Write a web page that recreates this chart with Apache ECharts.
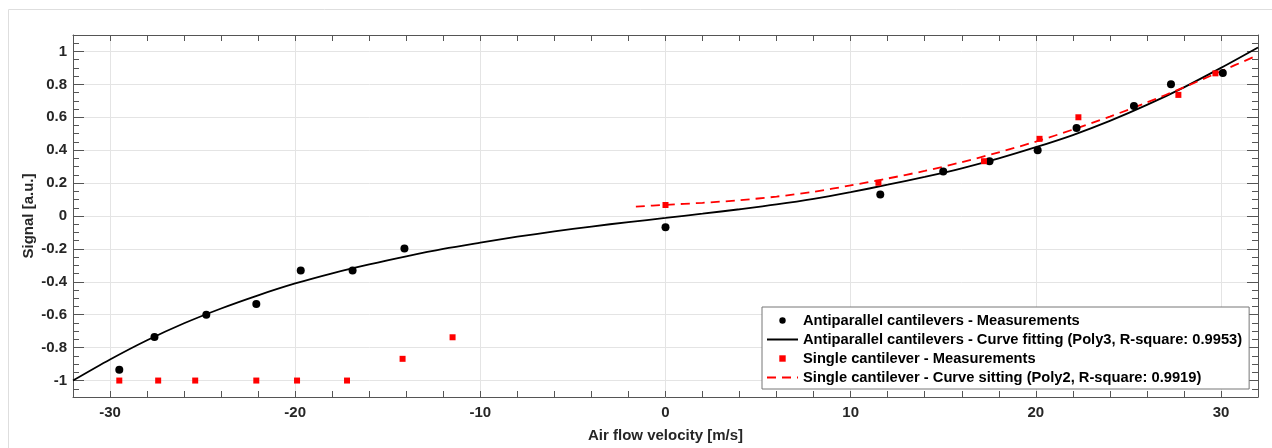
<!DOCTYPE html>
<html>
<head>
<meta charset="utf-8">
<script src="https://cdn.jsdelivr.net/npm/echarts@6/dist/echarts.min.js"></script>
<style>
html,body{margin:0;padding:0;background:#fff;}
#chart{width:1272px;height:448px;}
</style>
</head>
<body>
<div id="chart"></div>
<script>
// ---- data ----
const antiX = [-29.5, -27.6, -24.8, -22.1, -19.7, -16.9, -14.1, 0.0, 11.6, 15.0, 17.5, 20.1, 22.2, 25.3, 27.3, 30.1];
const antiY = [-0.935, -0.735, -0.60, -0.535, -0.331, -0.331, -0.198, -0.068, 0.13, 0.27, 0.333, 0.40, 0.535, 0.669, 0.80, 0.869];

const singleX = [-29.5, -27.4, -25.4, -22.1, -19.9, -17.2, -14.2, -11.5, 0.0, 11.5, 17.2, 20.2, 22.3, 27.7, 29.7];
const singleY = [-1, -1, -1, -1, -1, -1, -0.868, -0.737, 0.067, 0.202, 0.333, 0.469, 0.6, 0.736, 0.867];

// fitted curves
const antiFitX = [-32, -30, -28, -26, -24, -22, -20, -18, -16, -14, -12, -10, -8, -6, -4, -2, 0, 2, 4, 6, 8, 10, 12, 14, 16, 18, 20, 22, 24, 26, 28, 30, 32];
const antiFitY = [-1.0, -0.872, -0.755, -0.652, -0.562, -0.482, -0.41, -0.348, -0.294, -0.245, -0.2, -0.162, -0.126, -0.094, -0.064, -0.037, -0.012, 0.014, 0.041, 0.07, 0.104, 0.145, 0.19, 0.238, 0.29, 0.35, 0.418, 0.492, 0.578, 0.675, 0.782, 0.9, 1.024];

const singleFitX = [-1.6, 0, 2, 4, 6, 8, 10, 12, 14, 16, 18, 20, 22, 24, 26, 28, 30, 31.8];
const singleFitY = [0.057, 0.068, 0.08, 0.096, 0.118, 0.147, 0.186, 0.228, 0.274, 0.327, 0.387, 0.452, 0.525, 0.604, 0.69, 0.782, 0.88, 0.968];

const xTickLabels = [-30, -20, -10, 0, 10, 20, 30];
const yTickLabels = [-1, -0.8, -0.6, -0.4, -0.2, 0, 0.2, 0.4, 0.6, 0.8, 1];

const names = [
  'Antiparallel cantilevers - Measurements',
  'Antiparallel cantilevers - Curve fitting (Poly3, R-square: 0.9953)',
  'Single cantilever - Measurements',
  'Single cantilever - Curve sitting (Poly2, R-square: 0.9919)'
];
const xLabel = 'Air flow velocity [m/s]';
const yLabel = 'Signal [a.u.]';

// ---- chart ----
const FONT = 'Liberation Sans, Arial, Helvetica, sans-serif';
const TXT = '#262626';
const AXC = '#555555';
const zip = (a, b) => a.map((v, i) => [v, b[i]]);

function isMultiple(v, step) {
  const r = v / step;
  return Math.abs(r - Math.round(r)) < 1e-6;
}

function xAxisDef(pos, labels) {
  return {
    type: 'value', position: pos, min: -32, max: 32, interval: 2, z: 3,
    axisLine: { show: true, onZero: false, lineStyle: { color: AXC, width: 1 } },
    axisTick: { show: true, inside: true, length: 6, lineStyle: { color: AXC, width: 1 } },
    axisLabel: labels ? {
      show: true, margin: 8, color: TXT, fontFamily: FONT, fontWeight: 'bold', fontSize: 15,
      formatter: v => isMultiple(v, 10) && xTickLabels.indexOf(Math.round(v)) >= 0 ? String(Math.round(v)) : ''
    } : { show: false },
    splitLine: { show: false },
    name: labels ? xLabel : '',
    nameLocation: 'middle', nameGap: 31, nameMoveOverlap: false,
    nameTextStyle: { color: TXT, fontFamily: FONT, fontWeight: 'bold', fontSize: 15 }
  };
}
function yMinorDef(pos, labels) {
  return {
    type: 'value', position: pos, min: -1.1, max: 1.1, interval: 0.05, z: 3,
    axisLine: { show: true, onZero: false, lineStyle: { color: AXC, width: 1 } },
    axisTick: { show: true, inside: true, length: 6, lineStyle: { color: AXC, width: 1 } },
    axisLabel: labels ? {
      show: true, margin: 6, color: TXT, fontFamily: FONT, fontWeight: 'bold', fontSize: 15,
      formatter: v => {
        if (!isMultiple(v, 0.2) && !isMultiple(v, 1)) return '';
        const r = Math.round(v * 10) / 10;
        if (yTickLabels.indexOf(r) < 0 && r !== 0) return '';
        return String(r === 0 ? 0 : r);
      }
    } : { show: false },
    splitLine: { show: false },
    name: labels ? yLabel : '',
    nameLocation: 'middle', nameGap: 37, nameRotate: 90, nameMoveOverlap: false,
    nameTextStyle: { color: TXT, fontFamily: FONT, fontWeight: 'bold', fontSize: 15 }
  };
}
function yMajorDef(pos) {
  return {
    type: 'value', position: pos, min: -1.1, max: 1.1, offset: 0, z: 3,
    axisLine: { show: false, onZero: false },
    axisTick: { show: true, inside: true, length: 11, customValues: yTickLabels, lineStyle: { color: AXC, width: 1 } },
    axisLabel: { show: false },
    splitLine: { show: false }
  };
}

const chart = echarts.init(document.getElementById('chart'), null, { renderer: 'canvas' });
chart.setOption({
  animation: false,
  backgroundColor: '#ffffff',
  graphic: [{
    type: 'rect', left: 6, top: 7, silent: true, z: -10,
    shape: { x: 0.5, y: 0.5, width: 1290, height: 480 },
    style: { fill: 'none', stroke: '#dedede', lineWidth: 1 }
  }],
  grid: { left: 73, right: 14, top: 35, bottom: 50, containLabel: false },
  xAxis: [xAxisDef('bottom', true), xAxisDef('top', false)],
  yAxis: [yMinorDef('left', true), yMajorDef('left'), yMinorDef('right', false), yMajorDef('right')],
  legend: {
    orient: 'vertical', left: 762, top: 307,
    padding: [6, 7, 4, 4], itemGap: 4, itemWidth: 31, itemHeight: 8,
    backgroundColor: '#ffffff', borderColor: '#777777', borderWidth: 1, borderRadius: 0,
    textStyle: { color: '#000', fontFamily: FONT, fontWeight: 'bold', fontSize: 14.7 },
    selectedMode: false,
    data: [
      { name: names[0], lineStyle: { color: 'rgba(0,0,0,0)', opacity: 0 } },
      { name: names[1], itemStyle: { color: 'rgba(0,0,0,0)', borderWidth: 0, borderColor: 'rgba(0,0,0,0)' } },
      { name: names[2], lineStyle: { color: 'rgba(0,0,0,0)', opacity: 0 } },
      { name: names[3], itemStyle: { color: 'rgba(0,0,0,0)', borderWidth: 0, borderColor: 'rgba(0,0,0,0)' } }
    ]
  },
  series: [
    {
      name: '__grid', type: 'line', data: [], z: 0, silent: true,
      markLine: {
        silent: true, z: 0, symbol: ['none', 'none'], label: { show: false },
        lineStyle: { color: '#e4e4e4', width: 1, type: 'solid' },
        emphasis: { disabled: true },
        data: xTickLabels.map(v => ({ xAxis: v })).concat(yTickLabels.map(v => ({ yAxis: v })))
      }
    },
    {
      name: names[1], type: 'line', data: zip(antiFitX, antiFitY), symbol: 'none', smooth: 0.3, z: 4,
      lineStyle: { color: '#000000', width: 1.8 }, itemStyle: { color: '#000000' }
    },
    {
      name: names[3], type: 'line', data: zip(singleFitX, singleFitY), symbol: 'none', smooth: 0.3, z: 4,
      lineStyle: { color: '#ff0000', width: 1.8, type: [9, 6] }, itemStyle: { color: '#ff0000' }
    },
    {
      name: names[0], type: 'line', data: zip(antiX, antiY), showSymbol: true, symbol: 'circle', symbolSize: 8, z: 5,
      lineStyle: { opacity: 0, width: 0 }, itemStyle: { color: '#000000', borderWidth: 0 }
    },
    {
      name: names[2], type: 'line', data: zip(singleX, singleY), showSymbol: true, symbol: 'rect', symbolSize: 6, z: 5,
      lineStyle: { opacity: 0, width: 0 }, itemStyle: { color: '#ff0000', borderWidth: 0 }
    }
  ]
});
</script>
</body>
</html>
